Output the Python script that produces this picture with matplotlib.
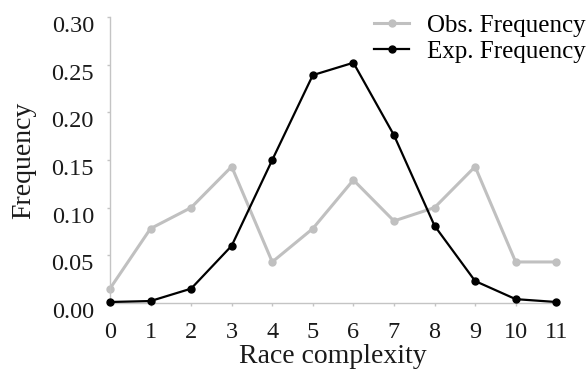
import numpy as np
import matplotlib
matplotlib.use("Agg")
import matplotlib.pyplot as plt
import matplotlib.transforms as mtransforms

plt.rcParams['font.family'] = ['Liberation Serif', 'DejaVu Serif']

# data
complexity = [0, 1, 2, 3, 4, 5, 6, 7, 8, 9, 10, 11]
obs_freq = [0.015, 0.078, 0.100, 0.143, 0.043, 0.078, 0.129, 0.086, 0.100, 0.143, 0.043, 0.043]
exp_freq = [0.001, 0.002, 0.015, 0.060, 0.150, 0.239, 0.252, 0.176, 0.081, 0.023, 0.004, 0.001]
yticks = [0.00, 0.05, 0.10, 0.15, 0.20, 0.25, 0.30]

fig = plt.figure(figsize=(5.88, 3.69), dpi=100)
ax = fig.add_axes([0.187, 0.179, 0.759, 0.775])

grey = '#c0c0c0'
ax.plot(complexity, obs_freq, color=grey, lw=2.2, marker='o', ms=5,
        label='Obs. Frequency', clip_on=False, zorder=2)
ax.plot(complexity, exp_freq, color='black', lw=1.6, marker='o', ms=5,
        label='Exp. Frequency', clip_on=False, zorder=3)

ax.set_xlim(0, 11)
ax.set_ylim(0, 0.30)
ax.set_xticks(complexity)
ax.set_yticks(yticks)
ax.set_yticklabels(['%.2f' % t for t in yticks])

for s in ['top', 'right']:
    ax.spines[s].set_visible(False)
for s in ['left', 'bottom']:
    ax.spines[s].set_color('#c4c4c4')
    ax.spines[s].set_linewidth(1.0)
ax.tick_params(colors='#c4c4c4', labelcolor='#1a1a1a', labelsize=17.5,
               length=2.5, width=1.0)
ax.tick_params(axis='x', pad=11)
ax.tick_params(axis='y', pad=9)

# y tick labels sit a bit below their ticks in the original
shift = mtransforms.ScaledTranslation(0, -7 / 100, fig.dpi_scale_trans)
for lab in ax.get_yticklabels():
    lab.set_transform(lab.get_transform() + shift)

ax.set_xlabel('Race complexity', fontsize=20, color='#1a1a1a')
ax.xaxis.set_label_coords(0.5, -0.145)
ax.set_ylabel('Frequency', fontsize=20, color='#1a1a1a')
ax.yaxis.set_label_coords(-0.166, 0.5)

fig.legend(loc='upper right', bbox_to_anchor=(1.0, 0.968), frameon=False,
           fontsize=18, handlelength=1.4, handletextpad=0.7,
           labelspacing=0.15, borderaxespad=0.0, borderpad=0.1)

fig.savefig('out.png', dpi=100)
